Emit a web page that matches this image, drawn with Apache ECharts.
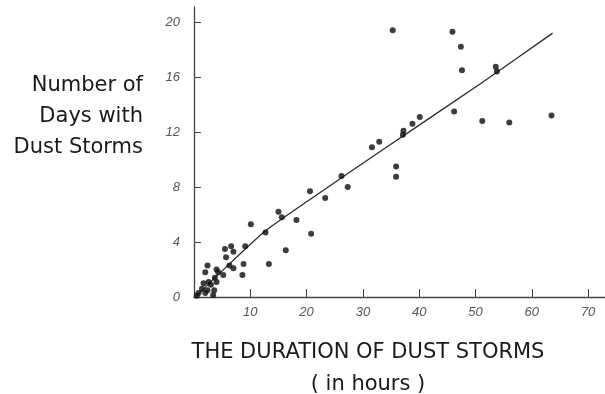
<!DOCTYPE html>
<html>
<head>
<meta charset="utf-8">
<script src="https://cdn.jsdelivr.net/npm/echarts@6/dist/echarts.min.js"></script>
<style>
  html, body { margin: 0; padding: 0; background: #ffffff; }
  #chart { width: 605px; height: 394px; }
</style>
</head>
<body>
<div id="chart"></div>
<script>
// Duration of dust storms (hours) vs. number of days with dust storms
const stormHours = [
  0.5, 0.8, 1.4, 1.7, 2.0, 2.0, 2.4, 2.4, 2.6, 3.0, 3.4, 3.6, 3.7, 4.0, 4.0, 4.3,
  5.2, 5.5, 5.7, 6.3, 6.6, 7.0, 7.0, 8.6, 8.8, 9.1,
  10.1, 12.7, 13.3, 15.0, 15.6, 16.3, 18.2, 20.6, 20.8, 23.3, 26.2, 27.3,
  31.6, 32.9, 35.3, 35.9, 35.9, 37.1, 37.2, 38.8, 40.1, 45.9, 46.2, 47.4, 47.6,
  51.2, 53.6, 53.8, 56.0, 63.5
];
const stormDays = [
  0.1, 0.3, 0.6, 1.0, 0.3, 1.8, 2.3, 0.5, 1.1, 0.9, 0.15, 0.5, 1.4, 1.1, 2.0, 1.8,
  1.6, 3.5, 2.9, 2.3, 3.7, 3.3, 2.1, 1.6, 2.4, 3.7,
  5.3, 4.7, 2.4, 6.2, 5.8, 3.4, 5.6, 7.7, 4.6, 7.2, 8.8, 8.0,
  10.9, 11.3, 19.4, 9.5, 8.75, 11.8, 12.1, 12.6, 13.1, 19.3, 13.5, 18.2, 16.5,
  12.8, 16.75, 16.4, 12.7, 13.2
];

// Fitted curve through the cloud
const fitHours = [0.5, 5, 12.8, 20.6, 33, 50.8, 63.7];
const fitDays  = [0.1, 1.9, 4.85, 7.1, 10.57, 15.5, 19.2];

// Tick labels
const xTicks = [0, 10, 20, 30, 40, 50, 60, 70];
const xTickLabels = [10, 20, 30, 40, 50, 60, 70];
const yTicks = [0, 4, 8, 12, 16, 20];

const points = stormHours.map((h, i) => [h, stormDays[i]]);
const fitLine = fitHours.map((h, i) => [h, fitDays[i]]);

const tickFont = {
  fontFamily: 'Liberation Sans',
  fontStyle: 'italic',
  fontSize: 13,
  color: '#555'
};
const axisStroke = { color: '#444', width: 1.3 };

const chart = echarts.init(document.getElementById('chart'), null, { renderer: 'canvas' });
chart.setOption({
  animation: false,
  backgroundColor: '#ffffff',
  grid: { left: 194, right: 0, top: 7, bottom: 97, outerBoundsMode: 'none', containLabel: false },
  xAxis: {
    type: 'value',
    min: 0,
    max: 73,
    splitLine: { show: false },
    axisLine: { show: true, lineStyle: axisStroke },
    axisTick: { show: true, inside: true, length: 8, lineStyle: { color: '#444', width: 1 }, customValues: xTicks },
    axisLabel: Object.assign({ margin: 9, customValues: xTickLabels }, tickFont)
  },
  yAxis: {
    type: 'value',
    min: 0,
    max: 21.1,
    splitLine: { show: false },
    axisLine: { show: true, lineStyle: axisStroke },
    axisTick: { show: true, inside: true, length: 7, lineStyle: { color: '#444', width: 1 }, customValues: yTicks },
    axisLabel: Object.assign({ margin: 14, customValues: yTicks }, tickFont)
  },
  series: [
    {
      type: 'line',
      data: fitLine,
      smooth: 0.2,
      symbol: 'none',
      lineStyle: { color: '#2a2a2a', width: 1.3 },
      z: 2
    },
    {
      type: 'scatter',
      data: points,
      symbol: 'circle',
      symbolSize: 6,
      itemStyle: { color: '#0d0d0d' },
      z: 3
    }
  ],
  graphic: [
    {
      type: 'text',
      x: 143,
      y: 70,
      style: {
        text: 'Number of\nDays with\nDust Storms',
        align: 'right',
        verticalAlign: 'top',
        font: '21px "DejaVu Sans"',
        lineHeight: 31,
        fill: '#1a1a1a'
      }
    },
    {
      type: 'text',
      x: 368,
      y: 337,
      style: {
        text: 'THE DURATION OF DUST STORMS\n( in hours )',
        align: 'center',
        verticalAlign: 'top',
        font: '21px "DejaVu Sans"',
        lineHeight: 32,
        fill: '#1a1a1a'
      }
    }
  ]
});
</script>
</body>
</html>
